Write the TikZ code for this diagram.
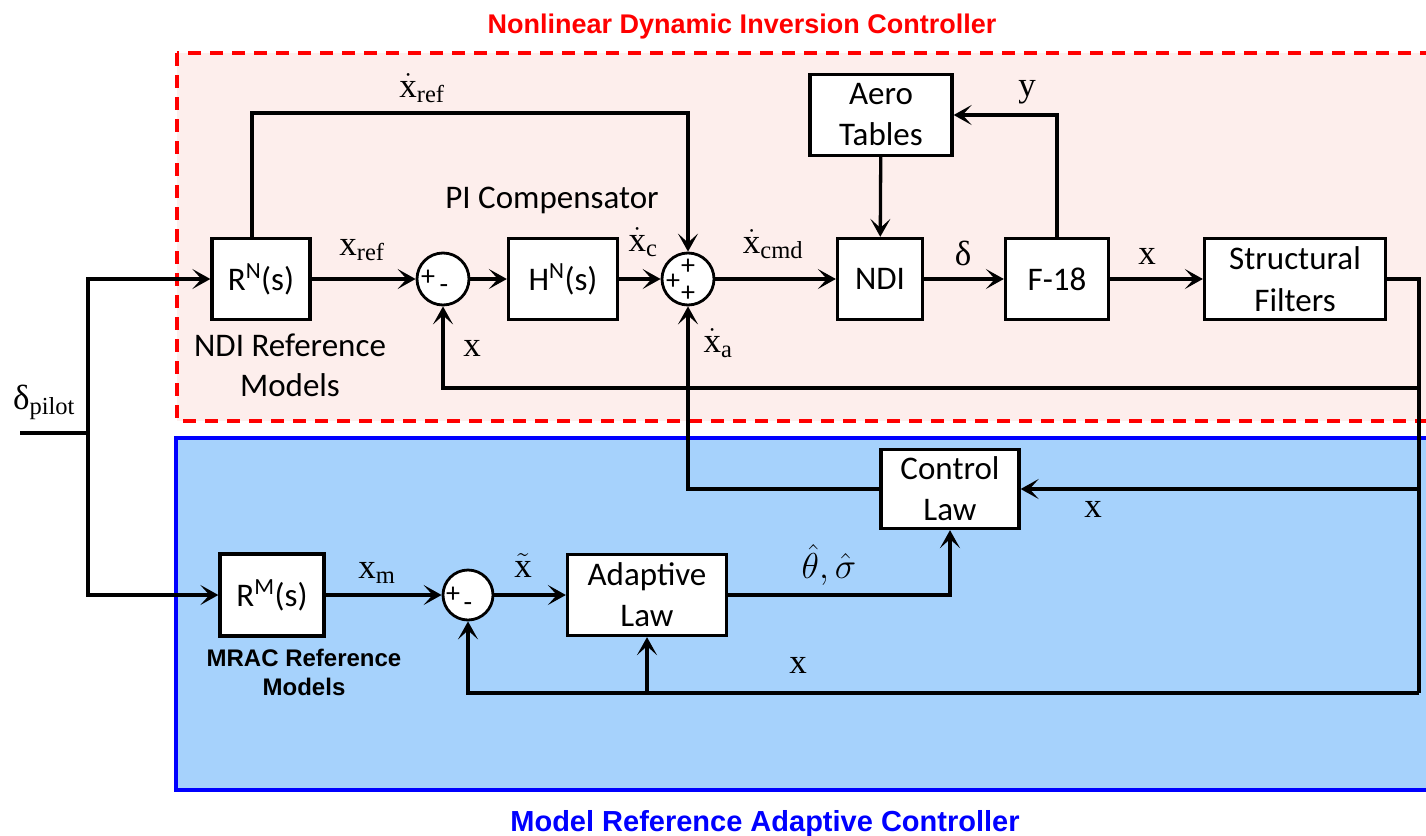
\RequirePackage{fix-cm}
\documentclass[tikz,border=0pt]{standalone}
\usepackage{amsmath}
\usepackage{fontspec}
\setmainfont{Carlito}
\newfontfamily\lblfont{Liberation Serif}
\newfontfamily\hdfont{Liberation Sans}
\usepackage{xcolor}
\usepackage{tikz}
\usetikzlibrary{arrows.meta, positioning, calc}
\definecolor{ndifill}{HTML}{FDEEEC}
\definecolor{mracfill}{HTML}{A6D2FC}
\definecolor{mracblue}{HTML}{0000FF}
\newcommand{\sv}[1]{\text{\lblfont #1}}
\tikzset{
    block/.style={
        rectangle,
        draw=black,
        line width=3.3pt,
        fill=white,
        align=center,
        inner sep=0pt,
        font=\fontsize{33}{40}\selectfont
    },
    sumnode/.style={
        circle,
        draw=black,
        line width=2.8pt,
        fill=white,
        minimum size=52pt,
        inner sep=0pt
    },
    sign/.style={
        font=\fontsize{28}{28}\selectfont,
        inner sep=0pt
    },
    wire/.style={
        draw=black,
        line width=3.3pt,
        -{Stealth[length=18pt,width=20pt,inset=9pt]}
    },
    plainwire/.style={
        draw=black,
        line width=3.3pt
    },
    siglabel/.style={
        font=\fontsize{35}{40}\selectfont,
        inner sep=0pt
    },
    note/.style={
        font=\fontsize{33}{40}\selectfont,
        align=center,
        inner sep=0pt
    }
}

\begin{document}
\begin{tikzpicture}[x=1pt, y=-1pt]
\useasboundingbox (0,0) rectangle (1426,835);

% Background regions
\draw[fill=ndifill, draw=red, line width=4pt, dash pattern=on 13pt off 9pt] (177,53) rectangle (1460,421);
\draw[fill=mracfill, draw=mracblue, line width=4pt] (176,438) rectangle (1460,790);
\node[font=\hdfont\bfseries\fontsize{27}{30}\selectfont, text=red] (ttlndi) at (742,27) {Nonlinear Dynamic Inversion Controller};
\node[font=\hdfont\bfseries\fontsize{29}{32}\selectfont, text=mracblue] (ttlmrac) at (765,824) {Model Reference Adaptive Controller};

% Top: NDI loop
\node[block, minimum width=98pt, minimum height=81pt] (rn) at (261,279) {R\textsuperscript{N}(s)};
\node[sumnode] (sum1) at (443,279) {};
\node[block, minimum width=109pt, minimum height=81pt] (hn) at (563,279) {H\textsuperscript{N}(s)};
\node[sumnode] (sum2) at (688,279) {};
\node[block, minimum width=85pt, minimum height=81pt] (ndi) at (880,279) {NDI};
\node[block, minimum width=103pt, minimum height=81pt] (f18) at (1057,279) {F-18};
\node[block, minimum width=181pt, minimum height=81pt] (sf) at (1295,279) {Structural\\[2pt]Filters};
\node[block, minimum width=142pt, minimum height=81pt] (aero) at (881,115) {Aero\\[1pt]Tables};

\node[note] (pinote) at (552,200) {PI Compensator};
\node[note] (ndinote) at (290,365) {NDI Reference\\Models};

\node[sign] at (428,278) {+};
\node[sign] at (444,289) {-};
\node[sign] at (673,282) {+};
\node[sign] at (688,267) {+};
\node[sign] at (688,294) {+};

% Bottom: MRAC loop
\node[block, minimum width=104pt, minimum height=82pt] (rm) at (272,595) {R\textsuperscript{M}(s)};
\node[sumnode, minimum size=50pt] (sum3) at (468,595) {};
\node[block, minimum width=159pt, minimum height=81pt] (al) at (647,595) {Adaptive\\[1pt]Law};
\node[block, minimum width=138pt, minimum height=79pt] (cl) at (950,489) {Control\\[1pt]Law};
\node[font=\hdfont\bfseries\fontsize{24}{29}\selectfont, align=center] (mracnote) at (304,672) {MRAC Reference\\Models};

\node[sign] at (453,595) {+};
\node[sign] at (468,607) {-};

% Pilot input
\coordinate (pin) at (20,433);
\coordinate (pbr) at (88,433);
\node[siglabel] (dpilot) at (44,402) {{\lblfont δ}$_{\sv{pilot}}$};
\draw[plainwire, line width=3.8pt] (pin) -- (pbr);
\draw[wire, line width=3.8pt] (pbr) |- (rn);
\draw[wire, line width=3.8pt] (pbr) |- (rm);

% NDI signals
\coordinate (xrefc) at (688,113);
\draw[wire] (rn) -- (sum1);
\draw[wire] ([xshift=-9pt]rn.north) |- (xrefc) -- (sum2);
\draw[wire] (sum1) -- (hn);
\draw[wire] (hn) -- (sum2);
\draw[wire] (sum2) -- (ndi);
\draw[wire] (aero) -- (ndi);
\draw[wire] (ndi) -- (f18);
\draw[wire] (f18) -- (sf);
\draw[wire] (f18.north) |- (aero.east);

\node[siglabel] (lxref) at (362,250) {$\sv{x}_{\sv{ref}}$};
\node[siglabel] (lxrefd) at (422,88) {$\dot{\sv{x}}_{\sv{ref}}$};
\node[siglabel] (lxc) at (643,242) {$\dot{\sv{x}}_{\sv{c}}$};
\node[siglabel] (lxcmd) at (773,244) {$\dot{\sv{x}}_{\sv{cmd}}$};
\node[siglabel] (lxa) at (718,343) {$\dot{\sv{x}}_{\sv{a}}$};
\node[siglabel] (ldelta) at (963,253) {\lblfont δ};
\node[siglabel] (lxf) at (1147,256) {\lblfont x};
\node[siglabel] (ly) at (1027,92) {\lblfont y};
\node[siglabel] (lx1) at (472,348) {\lblfont x};

% Feedback of x
\coordinate (fba) at (1419,388);
\coordinate (fbb) at (1419,489);
\coordinate (fbc) at (1419,693);
\draw[plainwire] (sf.east) -| (fbc);
\draw[wire] (fba) -| (sum1.south);
\draw[wire] (fbb) -- (cl.east);
\draw[wire] (fbc) -| (sum3.south);
\draw[wire] (al.south |- fbc) -- (al.south);

% MRAC signals
\draw[wire] (rm) -- (sum3);
\draw[wire] (sum3) -- (al);
\draw[wire] (al.east) -| (cl.south);
\draw[wire] (cl.west) -| (sum2.south);

\node[siglabel] (lxm) at (377,573) {$\sv{x}_{\sv{m}}$};
\node[siglabel] (lxt) at (523,566) {$\tilde{\sv{x}}$};
\node[siglabel, font=\fontsize{36}{40}\selectfont] (lth) at (829,565) {$\hat{\theta},\hat{\sigma}$};
\node[siglabel] (lx2) at (1093,509) {\lblfont x};
\node[siglabel] (lx3) at (798,665) {\lblfont x};

\end{tikzpicture}
\end{document}
